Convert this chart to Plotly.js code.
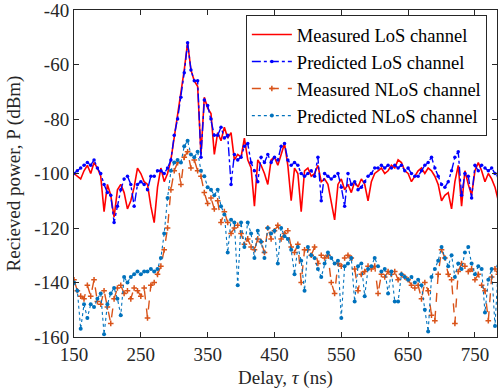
<!DOCTYPE html>
<html>
<head>
<meta charset="utf-8">
<script src="https://cdn.plot.ly/plotly-3.0.1.min.js"></script>
<style>html,body{margin:0;padding:0;background:#fff;}#chart{width:499px;height:392px;}</style>
</head>
<body>
<div id="chart"></div>
<script>
const delay = [150,155,160,165,170,175,180,185,190,195,
200,205,210,215,220,225,230,235,240,245,
250,255,260,265,270,275,280,285,290,295,
300,305,310,315,320,325,330,335,340,345,
350,355,360,365,370,375,380,385,390,395,
400,405,410,415,420,425,430,435,440,445,
450,455,460,465,470,475,480,485,490,495,
500,505,510,515,520,525,530,535,540,545,
550,555,560,565,570,575,580,585,590,595,
600,605,610,615,620,625,630,635,640,645,
650,655,660,665,670,675,680,685,690,695,
700,705,710,715,720,725,730,735,740,745,
750,755,760,765,770,775,780,785];

const measuredLoS = [-100,-101,-102,-99,-97,-100,-96,-98,-101,-114,
-104,-108,-116,-106,-104,-107,-113,-110,-105,-98,
-100,-103,-104,-112,-118,-105,-98,-103,-100,-95,
-87,-79,-71,-62,-52,-62,-66,-68,-93,-72,
-76,-78,-93,-85,-88,-83,-87,-85,-95,-93,
-94,-87,-95,-98,-112,-95,-97,-100,-104,-95,
-94,-97,-93,-89,-97,-110,-98,-100,-114,-99,
-98,-101,-100,-97,-103,-102,-104,-110,-117,-104,
-102,-106,-104,-107,-103,-105,-102,-104,-110,-103,
-100,-99,-98,-100,-99,-97,-98,-95,-96,-99,
-100,-103,-101,-99,-98,-100,-98,-99,-101,-104,
-110,-108,-107,-113,-103,-97,-112,-99,-104,-108,
-99,-96,-99,-103,-100,-102,-105,-110];

const predictedLoS = [-100,-99,-98,-97,-96,-97,-95,-98,-100,-104,
-107,-108,-118,-112,-106,-102,-101,-104,-112,-104,
-103,-104,-106,-101,-101,-99,-99,-100,-98,-95,
-86,-80,-72,-63,-52,-62,-66,-66,-94,-73,
-75,-80,-86,-86,-83,-87,-86,-104,-93,-95,
-94,-90,-89,-96,-99,-103,-94,-96,-93,-96,
-94,-95,-90,-89,-95,-97,-96,-97,-100,-101,
-100,-99,-101,-94,-110,-100,-101,-102,-101,-100,
-105,-112,-100,-104,-103,-106,-105,-103,-101,-100,
-98,-98,-97,-98,-97,-98,-97,-98,-97,-99,
-98,-100,-101,-101,-99,-97,-96,-94,-98,-101,
-104,-105,-103,-99,-94,-92,-108,-100,-101,-109,
-97,-99,-97,-98,-99,-98,-100,-101];

const measuredNLoS = [-139,-143,-145,-146,-141,-145,-139,-147,-148,-143,
-149,-155,-146,-142,-141,-144,-143,-146,-142,-143,
-145,-142,-153,-141,-140,-137,-134,-128,-120,-106,
-99,-96,-104,-94,-92,-98,-95,-99,-101,-107,
-111,-109,-113,-110,-118,-114,-118,-122,-120,-119,
-122,-126,-124,-127,-128,-124,-125,-129,-120,-124,
-121,-119,-124,-122,-121,-127,-129,-126,-140,-128,
-128,-130,-127,-133,-130,-131,-130,-140,-144,-133,
-134,-131,-130,-131,-135,-143,-137,-136,-134,-135,
-134,-144,-137,-138,-136,-137,-136,-139,-137,-138,
-139,-141,-142,-141,-146,-140,-143,-152,-154,-137,
-128,-131,-137,-139,-155,-136,-133,-134,-136,-135,
-139,-137,-141,-143,-154,-138,-135,-137];

const predictedNLoS = [-140,-143,-157,-148,-153,-148,-149,-146,-144,-159,
-148,-144,-142,-146,-152,-138,-140,-138,-137,-136,
-137,-136,-136,-135,-136,-135,-131,-122,-109,-99,
-96,-95,-96,-90,-88,-93,-94,-92,-99,-101,
-105,-106,-108,-106,-112,-115,-129,-117,-118,-141,
-118,-127,-118,-122,-131,-121,-125,-131,-120,-122,
-121,-133,-120,-123,-124,-128,-137,-127,-132,-143,
-127,-130,-131,-135,-138,-133,-129,-131,-133,-132,
-153,-134,-133,-131,-147,-134,-133,-145,-135,-134,
-131,-134,-136,-135,-144,-136,-147,-147,-137,-138,
-139,-138,-140,-139,-141,-150,-158,-138,-135,-132,
-127,-131,-134,-130,-138,-133,-135,-129,-127,-133,
-137,-134,-135,-151,-139,-135,-156,-134];

const seriesNames = ['Measured LoS channel','Predicted LoS channel','Measured NLoS channel','Predicted NLoS channel'];
const xTicks = [150,250,350,450,550,650,750];
const yTicks = [-160,-140,-120,-100,-80,-60,-40];

const traces = [
  {x: delay, y: measuredLoS, name: seriesNames[0], type:'scatter', mode:'lines',
   line:{color:'#FF0000', width:1.6}},
  {x: delay, y: predictedLoS, name: seriesNames[1], type:'scatter', mode:'lines+markers',
   line:{color:'#0000FF', width:1.4, dash:'dashdot'},
   marker:{symbol:'circle', size:3.5, color:'#0000FF'}},
  {x: delay, y: measuredNLoS, name: seriesNames[2], type:'scatter', mode:'lines+markers',
   line:{color:'#D95319', width:1.4, dash:'dash'},
   marker:{symbol:'cross-thin-open', size:4, color:'#D95319', line:{color:'#D95319', width:1.5}}},
  {x: delay, y: predictedNLoS, name: seriesNames[3], type:'scatter', mode:'lines+markers',
   line:{color:'#0072BD', width:1.1, dash:'dot'},
   marker:{symbol:'circle', size:4, color:'#0072BD'}}
];

const fontFam = '"Liberation Serif", "Times New Roman", serif';
const layout = {
  width:499, height:392,
  margin:{l:74, r:2, t:10, b:55},
  paper_bgcolor:'#fff', plot_bgcolor:'#fff',
  font:{family:fontFam, size:19, color:'#262626'},
  showlegend:true,
  legend:{x:0.976, xanchor:'right', y:0.985, yanchor:'top',
    bgcolor:'#fff', bordercolor:'#262626', borderwidth:1,
    font:{family:fontFam, size:18.5, color:'#000'}, tracegroupgap:0, itemwidth:40},
  xaxis:{range:[150,783], tickvals:xTicks, ticktext:xTicks.map(String),
    ticks:'inside', ticklen:5, tickcolor:'#262626', showgrid:false, zeroline:false,
    showline:true, linecolor:'#262626', linewidth:1, mirror:'ticks',
    ticklabeloverflow:'allow',
    tickfont:{family:fontFam, size:19, color:'#262626'},
    title:{text:'Delay, <i>τ</i> (ns)', font:{family:fontFam, size:19, color:'#262626'}, standoff:6}},
  yaxis:{range:[-160,-40], tickvals:yTicks, ticktext:yTicks.map(String),
    ticks:'inside', ticklen:5, tickcolor:'#262626', showgrid:false, zeroline:false,
    showline:true, linecolor:'#262626', linewidth:1, mirror:'ticks',
    ticklabeloverflow:'allow',
    tickfont:{family:fontFam, size:19, color:'#262626'},
    title:{text:'Recieved power, P (dBm)', font:{family:fontFam, size:19, color:'#262626'}, standoff:8}}
};
Plotly.newPlot('chart', traces, layout, {displayModeBar:false, staticPlot:true});
</script>
</body>
</html>
